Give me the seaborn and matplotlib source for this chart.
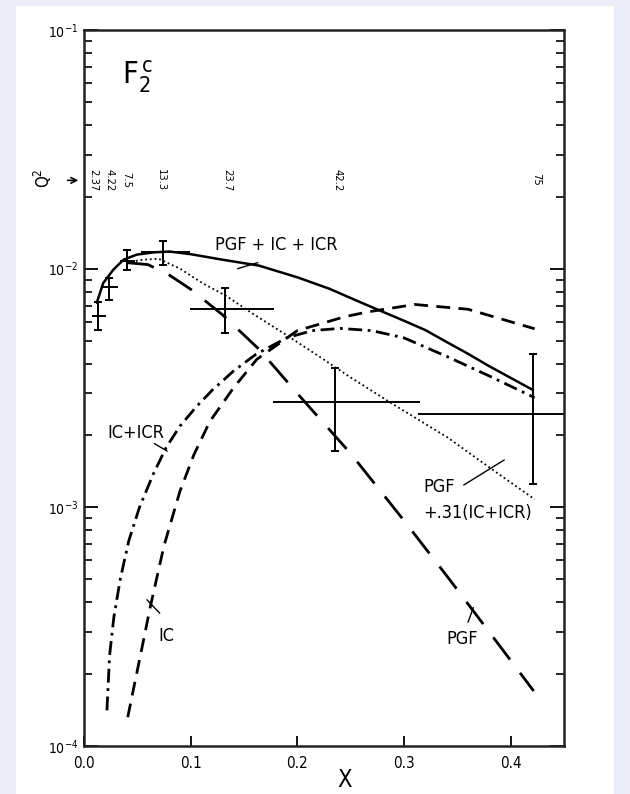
import numpy as np
import pandas as pd
import matplotlib
matplotlib.use("Agg")
import matplotlib.pyplot as plt
import matplotlib.ticker as mticker
from matplotlib.patches import Rectangle
import seaborn as sns

# curves (x, F2c)
x_tot = [0.012, 0.018, 0.0275, 0.037, 0.0495, 0.065, 0.08, 0.1, 0.13, 0.164, 0.2, 0.23, 0.257, 0.28, 0.3, 0.32, 0.341, 0.36, 0.38, 0.421]
f_tot = [0.0072, 0.0087, 0.0099, 0.0109, 0.01145, 0.0117, 0.0118, 0.0115, 0.0109, 0.0103, 0.0092, 0.00824, 0.0073, 0.0066, 0.00605, 0.00553, 0.0049, 0.0044, 0.0039, 0.0031]

x_mix = [0.04, 0.055, 0.07, 0.09, 0.111, 0.133, 0.16, 0.189, 0.22, 0.25, 0.29, 0.341, 0.38, 0.4225]
f_mix = [0.0106, 0.0109, 0.0110, 0.0100, 0.0087, 0.0077, 0.0064, 0.0053, 0.0043, 0.0035, 0.0027, 0.00196, 0.00147, 0.00108]

x_pgf = [0.04, 0.06, 0.08, 0.1, 0.13, 0.164, 0.2, 0.25, 0.3, 0.341, 0.38, 0.4216]
f_pgf = [0.0106, 0.0104, 0.0094, 0.0082, 0.0064, 0.0046, 0.0030, 0.00168, 0.00088, 0.00051, 0.00030, 0.00017]

x_icr = [0.0215, 0.024, 0.028, 0.034, 0.042, 0.052, 0.065, 0.077, 0.09, 0.105, 0.12, 0.14, 0.161, 0.19, 0.214, 0.24, 0.27, 0.3, 0.341, 0.38, 0.4225]
f_icr = [1.41e-4, 2.4e-4, 3.47e-4, 5.0e-4, 7.24e-4, 1.0e-3, 1.38e-3, 1.78e-3, 2.19e-3, 2.63e-3, 3.09e-3, 3.72e-3, 4.37e-3, 5.13e-3, 5.5e-3, 5.62e-3, 5.5e-3, 5.13e-3, 4.27e-3, 3.55e-3, 2.88e-3]

x_ic = [0.041, 0.046, 0.052, 0.062, 0.075, 0.09, 0.103, 0.118, 0.14, 0.162, 0.2, 0.245, 0.267, 0.31, 0.36, 0.4225]
f_ic = [1.32e-4, 1.70e-4, 2.29e-4, 3.8e-4, 6.9e-4, 1.17e-3, 1.66e-3, 2.29e-3, 3.16e-3, 4.17e-3, 5.5e-3, 6.3e-3, 6.6e-3, 7.08e-3, 6.76e-3, 5.6e-3]

# data points with error bars
pt_x = [0.0134, 0.0236, 0.0407, 0.074, 0.1325, 0.2357, 0.4207]
pt_f = [0.00635, 0.00835, 0.01074, 0.0117, 0.00678, 0.00276, 0.00245]
pt_f_lo = [0.00556, 0.0074, 0.0099, 0.0104, 0.00538, 0.00172, 0.00125]
pt_f_hi = [0.00727, 0.0091, 0.0120, 0.0131, 0.0083, 0.00385, 0.00437]
pt_x_lo = [0.0072, 0.018, 0.034, 0.053, 0.099, 0.177, 0.3134]
pt_x_hi = [0.021, 0.032, 0.048, 0.099, 0.178, 0.315, 0.45]

# Q^2 values written above the points
q2_labels = ["2.37", "4.22", "7.5", "13.3", "23.7", "42.2", "75"]
q2_x = [0.0085, 0.0235, 0.040, 0.072, 0.134, 0.238, 0.4235]

sns.set_style("ticks")
plt.rcParams['font.family'] = ['DejaVu Sans']
plt.rcParams['font.stretch'] = 'condensed'
plt.rcParams['mathtext.fontset'] = 'dejavusans'
for key in ['text.color', 'axes.labelcolor', 'xtick.color', 'ytick.color']:
    plt.rcParams[key] = 'black'

fig = plt.figure(figsize=(6.3, 7.94), dpi=100, facecolor='#eaedf7')
fig.patches.append(Rectangle((16/630, 0), 598/630, 1 - 6/794, transform=fig.transFigure,
                             facecolor='white', edgecolor='none', zorder=-10))
ax = fig.add_axes([84/630, 48/794, 480/630, 716/794])
ax.set_zorder(5)
ax.set_facecolor('white')

k = dict(color='black', ax=ax, legend=False)
sns.lineplot(x=x_tot, y=f_tot, linewidth=1.8, linestyle='-', **k)
sns.lineplot(x=x_mix, y=f_mix, linewidth=1.3, linestyle=(0, (1, 1.6)), **k)
sns.lineplot(x=x_pgf, y=f_pgf, linewidth=2.0, linestyle=(0, (10, 6)), **k)
sns.lineplot(x=x_icr, y=f_icr, linewidth=2.0, linestyle=(0, (5, 2, 1, 2)), **k)
sns.lineplot(x=x_ic, y=f_ic, linewidth=2.0, linestyle=(0, (5, 3)), **k)

px = np.array(pt_x)
pf = np.array(pt_f)
ax.errorbar(px, pf, yerr=[pf - np.array(pt_f_lo), np.array(pt_f_hi) - pf],
            fmt='none', ecolor='black', elinewidth=1.4, capsize=3, capthick=1.4)
ax.errorbar(px, pf, xerr=[px - np.array(pt_x_lo), np.array(pt_x_hi) - px],
            fmt='none', ecolor='black', elinewidth=1.4, capsize=0)

ax.set_yscale('log')
ax.set_xlim(0, 0.45)
ax.set_ylim(1e-4, 1e-1)
ax.set_xticks([0.0, 0.1, 0.2, 0.3, 0.4])
ax.xaxis.set_major_formatter(mticker.FormatStrFormatter('%.1f'))
ax.yaxis.set_major_locator(mticker.LogLocator(base=10))
ax.yaxis.set_minor_locator(mticker.LogLocator(base=10, subs=np.arange(2, 10)))
ax.yaxis.set_minor_formatter(mticker.NullFormatter())
ax.tick_params(axis='x', direction='in', length=7, width=1.3, labelsize=11, pad=7, top=False)
ax.tick_params(axis='y', which='major', direction='in', length=10, width=1.3, labelsize=10, right=True, pad=4)
ax.tick_params(axis='y', which='minor', direction='in', length=6, width=1.2, right=True)
for s in ax.spines.values():
    s.set_linewidth(1.8)
    s.set_color('#222222')
ax.set_xlabel('')
ax.set_ylabel('')

fig.text(345/630, 1 - 780/794, 'X', fontsize=17, ha='center', va='center')
ax.text(0.08, 0.935, r'$\mathrm{F}_2^{\,\mathrm{c}}$', transform=ax.transAxes, fontsize=22, ha='left', va='center')

# Q^2 scale at the top
for lab, xq in zip(q2_labels, q2_x):
    ax.text(xq, 0.0236, lab, rotation=270, fontsize=8, ha='center', va='center')
ax.annotate('', xy=(-0.006, 0.79), xytext=(-0.04, 0.79), xycoords='axes fraction',
            arrowprops=dict(arrowstyle='->', lw=1.2, color='black'), annotation_clip=False)
fig.text(43/630, 1 - 178/794, r'$\mathrm{Q}^2$', rotation=90, fontsize=12, ha='center', va='center')

# curve labels with leader lines
fs = 13
ax.text(0.123, 0.0126, 'PGF + IC + ICR', fontsize=fs, ha='left', va='center')
ax.plot([0.163, 0.144], [0.0106, 0.0100], color='black', lw=1.0)
ax.text(0.022, 0.00205, 'IC+ICR', fontsize=fs, ha='left', va='center')
ax.plot([0.066, 0.078], [0.00185, 0.00172], color='black', lw=1.0)
ax.text(0.070, 0.00029, 'IC', fontsize=fs, ha='left', va='center')
ax.plot([0.059, 0.071], [0.00041, 0.00036], color='black', lw=1.0)
ax.text(0.34, 0.00028, 'PGF', fontsize=fs, ha='left', va='center')
ax.plot([0.360, 0.365], [0.00033, 0.00038], color='black', lw=1.0)
ax.text(0.318, 0.00122, 'PGF', fontsize=fs, ha='left', va='center')
ax.text(0.318, 0.00095, '+.31(IC+ICR)', fontsize=fs, ha='left', va='center')
ax.plot([0.356, 0.394], [0.00124, 0.00158], color='black', lw=1.0)

fig.savefig('out.png', dpi=100, facecolor=fig.get_facecolor())
